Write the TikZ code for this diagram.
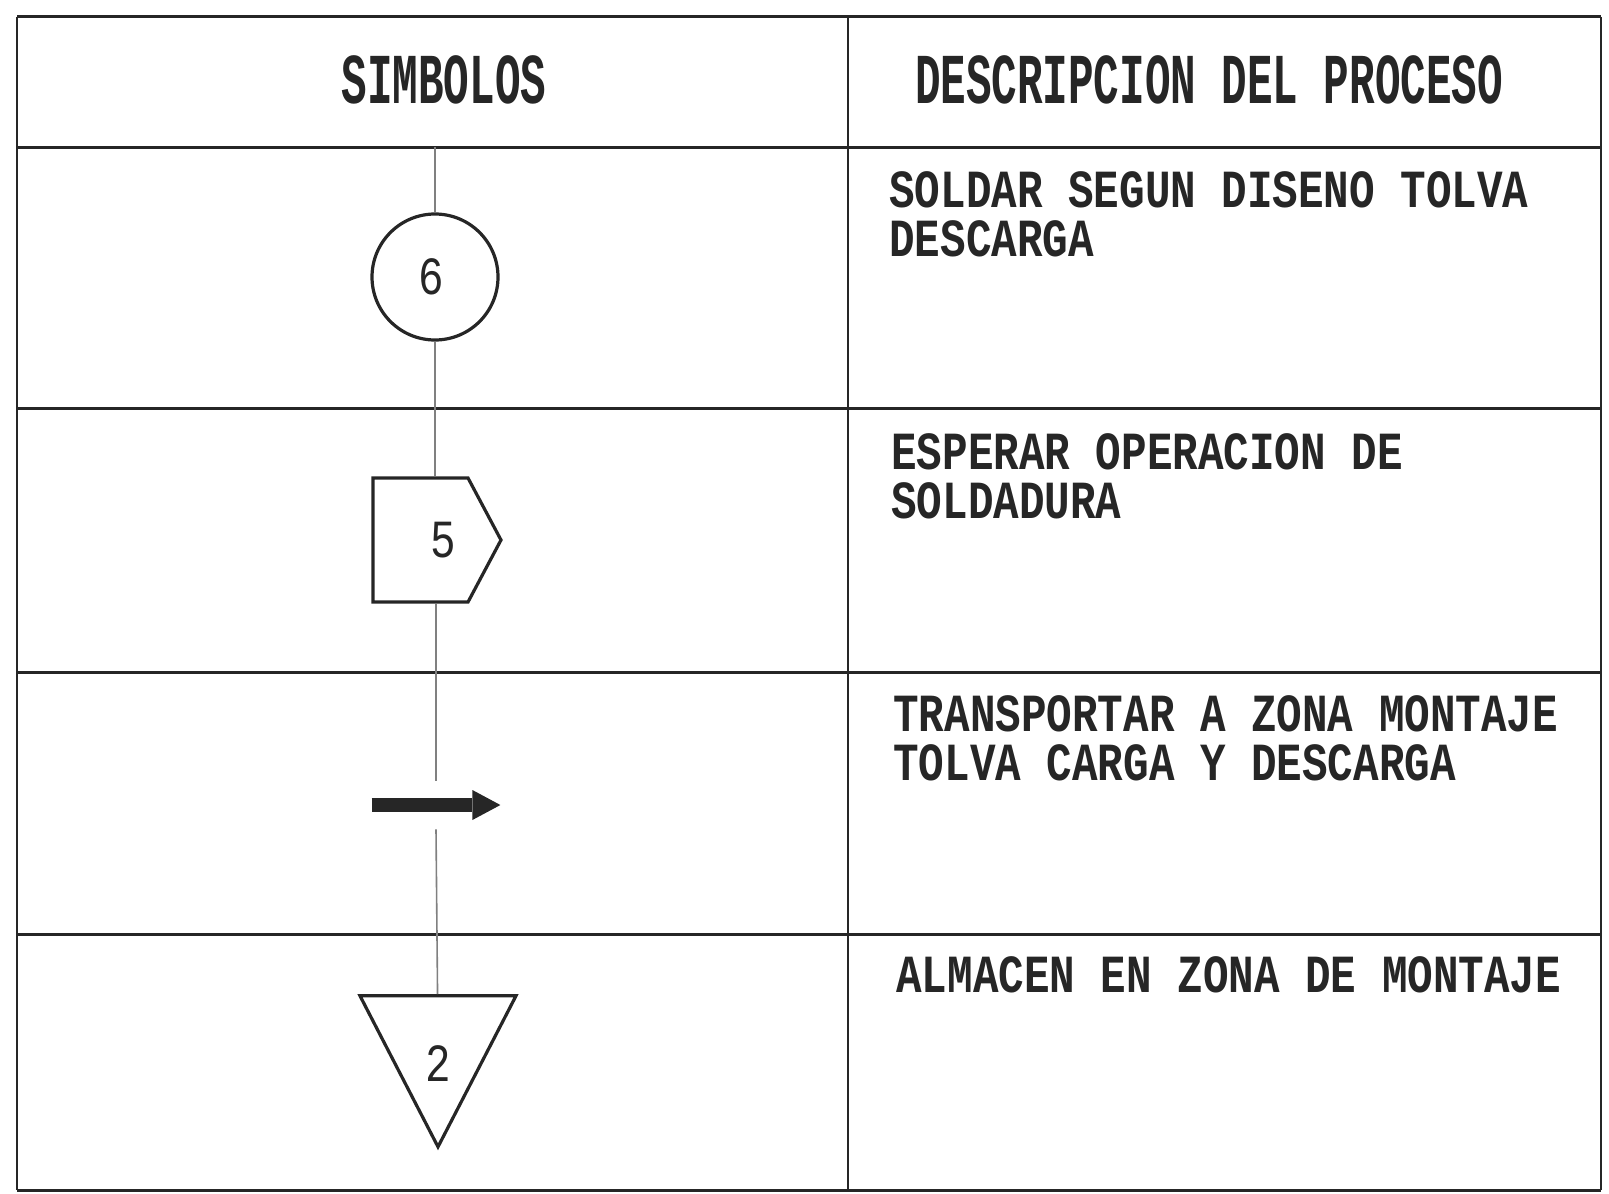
\documentclass[tikz,border=0pt]{standalone}
\usepackage{fontspec}
\setmonofont{Liberation Mono}
\usetikzlibrary{shapes.geometric,shapes.symbols,arrows.meta}
\definecolor{ink}{HTML}{262626}
\newcommand\plotfont{\fontsize{21.3}{17.5}\selectfont\ttfamily}
\newcommand\plottext[1]{\scalebox{1}[1.26]{\begin{tabular}[t]{@{}l@{}}#1\end{tabular}}}
\newcommand\digit[1]{\scalebox{1}[1.26]{#1}}
\newcommand\headtext[1]{\scalebox{1}[1.68]{#1}}

\begin{document}
\begin{tikzpicture}[x=0.5pt, y=-0.5pt,
  rule/.style={draw=ink, line width=1.5pt},
  colrule/.style={draw=ink, line width=0.8pt},
  flow/.style={draw=gray, line width=0.8pt},
  sym/.style={draw=ink, line width=1.6pt, inner sep=0pt, font=\plotfont, text=ink},
  num/.style={inner sep=0pt, font=\plotfont, text=ink},
  desc/.style={anchor=base west, inner sep=0pt, font=\plotfont\bfseries, text=ink},
  head/.style={anchor=base, inner sep=0pt, font=\plotfont\bfseries, text=ink}]
  \useasboundingbox (0,0) rectangle (1609,1193);
  % table
  \foreach \y in {17,147,408,672,934,1190}
    \draw[rule] (17,\y) -- (1601,\y);
  \foreach \x in {17,848,1601}
    \draw[colrule] (\x,17) -- (\x,1190);
  % headings
  \node[head] (hsym) at (444,104) {\headtext{SIMBOLOS}};
  \node[head] (hdesc) at (1209,104) {\headtext{DESCRIPCION DEL PROCESO}};
  % symbols
  \coordinate (start) at (435,147);
  \node[sym, circle, minimum size=63pt, label={[num, xshift=-2pt]center:\digit{6}}] (op6) at (435,277) {};
  \node[sym, signal, signal to=east, signal pointer angle=124,
        minimum width=64pt, minimum height=62pt,
        label={[num, xshift=11.3pt]center:\digit{5}}] (wait5) at (420.5,540) {};
  \node[inner sep=0pt, minimum width=64pt, minimum height=24pt] (move) at (436,805) {};
  \draw[line width=7pt, draw=ink,
        -{Triangle[length=14pt, width=15pt, line width=0pt]}] (move.west) -- (move.east);
  \node[sym, isosceles triangle, shape border rotate=-90, isosceles triangle stretches,
        minimum width=78pt, minimum height=75.5pt, anchor=apex,
        label={[num, yshift=-10pt]center:\digit{2}}] (store2) at (438,1151) {};
  \draw[flow] (start) -- (op6);
  \draw[flow] (op6.south) -- (op6.south |- wait5.north);
  \draw[flow] (move.north |- wait5.south) -- (move.north);
  \draw[flow] (move.south) -- (store2);
  % descriptions
  \node[desc] (d6) at (889,207) {\plottext{SOLDAR SEGUN DISENO TOLVA\\DESCARGA}};
  \node[desc] (d5) at (891,469) {\plottext{ESPERAR OPERACION DE\\SOLDADURA}};
  \node[desc] (d9) at (893,731) {\plottext{TRANSPORTAR A ZONA MONTAJE\\TOLVA CARGA Y DESCARGA}};
  \node[desc] (d2) at (896,992) {\plottext{ALMACEN EN ZONA DE MONTAJE}};
\end{tikzpicture}
\end{document}
